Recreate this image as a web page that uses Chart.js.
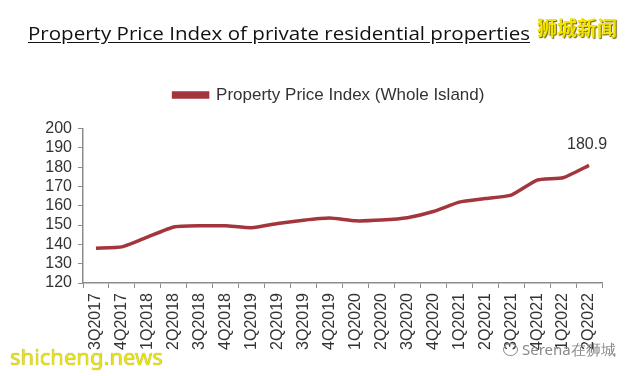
<!DOCTYPE html>
<html>
<head>
<meta charset="utf-8">
<script src="https://cdn.jsdelivr.net/npm/chart.js@4/dist/chart.umd.min.js"></script>
<style>
  html, body { margin: 0; padding: 0; background: #fff; }
  #wrap { position: relative; width: 634px; height: 376px; overflow: hidden; }
  #chart { position: absolute; left: 0; top: 0; }
  .title {
    position: absolute; left: 28px; top: 20px; white-space: nowrap;
    font-family: "Open Sans", sans-serif; font-size: 19px; color: #111;
    text-decoration: underline; text-underline-offset: 2px; transform-origin: 0 0;
  }
  .wm-cn {
    position: absolute; left: 537px; top: 13px; font-family: "Noto Sans CJK SC", sans-serif;
    font-weight: 700; font-size: 20px; color: #f2e400;
    text-shadow: 1px 1px 1px #6b5a00;
  }
  .wm-site {
    position: absolute; left: 10px; top: 341px; font-family: "Noto Sans", sans-serif;
    font-size: 22px; color: #e6e21a; text-shadow: 0 0 1px #8a8a00;
  }
  .wm-wx {
    position: absolute; left: 503px; top: 339px; font-family: "Noto Sans", sans-serif;
    font-size: 15px; color: #8a8a8a;
  }
  .wm-wx .ico {
    display: inline-block; width: 13px; height: 11px; border: 1px solid #8a8a8a;
    border-radius: 50%; margin-right: 4px; vertical-align: -1px;
  }
</style>
</head>
<body>
<div id="wrap">
  <canvas id="chart" width="634" height="376"></canvas>
  <div class="title" id="title">Property Price Index of private residential properties</div>
  <div class="wm-cn">狮城新闻</div>
  <div class="wm-site">shicheng.news</div>
  <div class="wm-wx"><span class="ico"></span>Serena在狮城</div>
</div>
<script>
// quarters shown on the x axis
const quarters = [
  '3Q2017', '4Q2017',
  '1Q2018', '2Q2018', '3Q2018', '4Q2018',
  '1Q2019', '2Q2019', '3Q2019', '4Q2019',
  '1Q2020', '2Q2020', '3Q2020', '4Q2020',
  '1Q2021', '2Q2021', '3Q2021', '4Q2021',
  '1Q2022', '2Q2022',
];
// URA property price index, whole island
const ppiValues = [
  138.0, 138.7,
  143.9, 149.0, 149.6, 149.6,
  148.6, 150.8, 152.5, 153.6,
  152.2, 152.6, 153.8, 157.0,
  161.9, 163.7, 165.5, 173.3,
  174.5, 180.9,
];
const seriesLabel = 'Property Price Index (Whole Island)';
const yTicks = [120, 130, 140, 150, 160, 170, 180, 190, 200];

// stretch the title to the width it has in the original
const titleEl = document.getElementById('title');
const tw = titleEl.getBoundingClientRect().width;
titleEl.style.transform = `scaleX(${502 / tw})`;

const LINE_COLOR = '#a3363c';
const TEXT_COLOR = '#333';
const AXIS_COLOR = '#8c8c8c';
const FONT = '"Liberation Sans", Arial, sans-serif';

// writes the value above the last point
const lastLabel = {
  id: 'lastLabel',
  afterDatasetsDraw(chart) {
    const meta = chart.getDatasetMeta(0);
    const i = ppiValues.length - 1;
    const pt = meta.data[i];
    const ctx = chart.ctx;
    ctx.save();
    ctx.font = '16px ' + FONT;
    ctx.fillStyle = TEXT_COLOR;
    ctx.textAlign = 'center';
    ctx.textBaseline = 'middle';
    ctx.fillText(ppiValues[i].toFixed(1), pt.x - 2, pt.y - 21);
    ctx.restore();
  },
};

// the legend sits right of centre and well above the plot in the original
const legendNudge = {
  id: 'legendNudge',
  afterLayout(chart) {
    chart.legend.left += 8;
    chart.legend.right += 8;
    chart.legend.top -= 15;
    chart.legend.bottom -= 15;
  },
};

new Chart(document.getElementById('chart'), {
  type: 'line',
  data: {
    labels: quarters,
    datasets: [{
      label: seriesLabel,
      data: ppiValues,
      borderColor: LINE_COLOR,
      backgroundColor: LINE_COLOR,
      borderWidth: 3.5,
      pointRadius: 0,
      tension: 0.15,
    }],
  },
  options: {
    responsive: false,
    animation: false,
    layout: { padding: { top: 72, left: 40, right: 32, bottom: 0 } },
    plugins: {
      tooltip: { enabled: false },
      legend: {
        position: 'top',
        labels: {
          color: TEXT_COLOR,
          font: { family: FONT, size: 17 },
          boxWidth: 34,
          boxHeight: 4,
          padding: 29.5,
        },
      },
    },
    scales: {
      x: {
        offset: true,
        afterFit(scale) { scale.height = 93; },
        grid: {
          drawOnChartArea: false,
          offset: true,
          color: AXIS_COLOR,
          tickLength: 5,
        },
        border: { color: AXIS_COLOR, width: 1.5 },
        ticks: {
          autoSkip: false,
          minRotation: 90,
          maxRotation: 90,
          padding: 5,
          color: TEXT_COLOR,
          font: { family: FONT, size: 16 },
        },
      },
      y: {
        min: yTicks[0],
        max: yTicks[yTicks.length - 1],
        afterFit(scale) { scale.width = 43; },
        afterBuildTicks(scale) { scale.ticks = yTicks.map((v) => ({ value: v })); },
        grid: {
          drawOnChartArea: false,
          color: AXIS_COLOR,
          tickLength: 5,
        },
        border: { color: AXIS_COLOR, width: 1.5 },
        ticks: {
          autoSkip: false,
          padding: 6,
          color: TEXT_COLOR,
          font: { family: FONT, size: 16 },
        },
      },
    },
  },
  plugins: [lastLabel, legendNudge],
});
</script>
</body>
</html>
